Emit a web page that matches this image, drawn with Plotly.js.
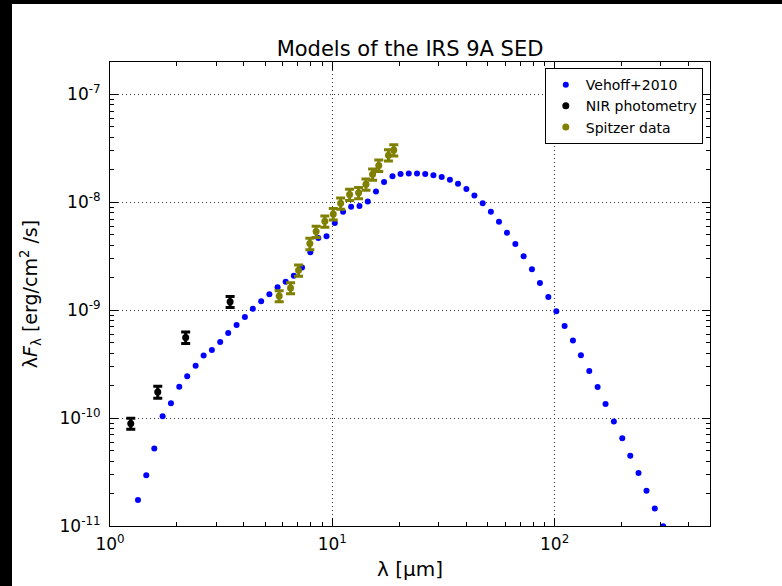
<!DOCTYPE html>
<html>
<head>
<meta charset="utf-8">
<script src="https://cdn.plot.ly/plotly-3.0.1.min.js"></script>
<style>
  html, body { margin: 0; padding: 0; background: #000; width: 782px; height: 586px; overflow: hidden; }
  #chart { position: absolute; left: 12px; top: 4px; width: 770px; height: 582px; background: #fff; }
</style>
</head>
<body>
<div id="chart"></div>
<script>
// Vehoff+2010 model (wavelength in micron, lambda*F_lambda in erg/cm^2/s)
const modelWavelength = [1.336, 1.456, 1.582, 1.725, 1.880, 2.049, 2.225, 2.428, 2.637, 2.873,
  3.131, 3.402, 3.710, 4.044, 4.392, 4.786, 5.211, 5.673, 6.169, 6.714,
  7.309, 7.964, 8.651, 9.417, 10.26, 11.18, 12.15, 13.25, 14.44, 15.72,
  17.09, 18.65, 20.28, 22.07, 24.05, 26.18, 28.50, 31.05, 33.81, 36.77,
  40.10, 43.57, 47.47, 51.68, 56.20, 61.05, 66.59, 72.55, 79.07, 85.90,
  93.70, 101.8, 110.9, 120.9, 131.3, 143.2, 156.1, 169.5, 184.7, 201.5,
  218.9, 238.5, 259.1, 282.3, 308.0];
const modelFlux = [1.74e-11, 2.95e-11, 5.24e-11, 1.04e-10, 1.37e-10, 1.95e-10, 2.45e-10, 3.05e-10, 3.81e-10, 4.29e-10,
  5.09e-10, 6.16e-10, 7.31e-10, 8.67e-10, 1.03e-9, 1.21e-9, 1.41e-9, 1.63e-9, 1.84e-9, 2.09e-9,
  2.49e-9, 3.44e-9, 4.67e-9, 4.84e-9, 6.42e-9, 8.20e-9, 9.12e-9, 9.24e-9, 1.017e-8, 1.264e-8,
  1.542e-8, 1.748e-8, 1.828e-8, 1.856e-8, 1.856e-8, 1.836e-8, 1.786e-8, 1.715e-8, 1.616e-8, 1.49e-8,
  1.328e-8, 1.156e-8, 9.83e-9, 8.17e-9, 6.60e-9, 5.24e-9, 4.11e-9, 3.16e-9, 2.40e-9, 1.79e-9,
  1.33e-9, 9.79e-10, 7.15e-10, 5.24e-10, 3.83e-10, 2.74e-10, 1.94e-10, 1.35e-10, 9.32e-11, 6.49e-11,
  4.48e-11, 3.10e-11, 2.12e-11, 1.45e-11, 9.94e-12];

// NIR photometry
const nirWavelength = [1.24, 1.64, 2.19, 3.47];
const nirFlux = [8.93e-11, 1.75e-10, 5.59e-10, 1.20e-9];
const nirError = [1.05e-11, 2.2e-11, 6.8e-11, 1.4e-10];

// Spitzer data
const spitzerWavelength = [5.768, 6.489, 7.050, 7.924, 8.457, 9.254, 10.10, 10.90, 11.96, 13.13, 14.17, 15.18, 16.18, 17.89, 18.90];
const spitzerFlux = [1.356e-9, 1.609e-9, 2.346e-9, 4.145e-9, 5.365e-9, 6.67e-9, 7.82e-9, 9.79e-9, 1.181e-8, 1.225e-8, 1.468e-8, 1.824e-8, 2.20e-8, 2.74e-8, 3.05e-8];
const spitzerError = [1.6e-10, 1.9e-10, 2.8e-10, 5.0e-10, 6.4e-10, 8.0e-10, 9.4e-10, 1.17e-9, 1.42e-9, 1.47e-9, 1.76e-9, 2.19e-9, 2.64e-9, 3.29e-9, 3.66e-9];

// Axis ticks
const xTickVals = [1, 10, 100];
const xTickText = ['10<sup>0</sup>', '10<sup>1</sup>', '10<sup>2</sup>'];
const xMinorVals = [2, 3, 4, 5, 6, 7, 8, 9, 20, 30, 40, 50, 60, 70, 80, 90, 200, 300, 400];
const yTickVals = [1e-11, 1e-10, 1e-9, 1e-8, 1e-7];
const yTickText = ['10<sup>-11</sup>', '10<sup>-10</sup>', '10<sup>-9</sup>', '10<sup>-8</sup>', '10<sup>-7</sup>'];
const yMinorVals = [2e-11, 3e-11, 4e-11, 5e-11, 6e-11, 7e-11, 8e-11, 9e-11,
  2e-10, 3e-10, 4e-10, 5e-10, 6e-10, 7e-10, 8e-10, 9e-10,
  2e-9, 3e-9, 4e-9, 5e-9, 6e-9, 7e-9, 8e-9, 9e-9,
  2e-8, 3e-8, 4e-8, 5e-8, 6e-8, 7e-8, 8e-8, 9e-8];

const FONT = 'DejaVu Sans, sans-serif';

const traces = [
  {
    x: modelWavelength, y: modelFlux, type: 'scatter', mode: 'markers', name: 'Vehoff+2010',
    marker: { color: '#0000ff', size: 6, line: { width: 0 } }
  },
  {
    x: nirWavelength, y: nirFlux, type: 'scatter', mode: 'markers', name: 'NIR photometry',
    marker: { color: '#000000', size: 7, line: { width: 0 } },
    error_y: { type: 'data', array: nirError, color: '#000000', thickness: 3, width: 4.5 }
  },
  {
    x: spitzerWavelength, y: spitzerFlux, type: 'scatter', mode: 'markers', name: 'Spitzer data',
    marker: { color: '#808000', size: 7, line: { width: 0 } },
    error_y: { type: 'data', array: spitzerError, color: '#808000', thickness: 3, width: 4.5 }
  }
];

const axisCommon = {
  showline: true, linecolor: '#000', linewidth: 1, mirror: 'allticks',
  ticks: 'inside', ticklen: 8, tickwidth: 1, tickcolor: '#000',
  showgrid: true, gridcolor: '#333', gridwidth: 1, griddash: '1px,3px',
  zeroline: false, tickmode: 'array',
  tickfont: { family: FONT, size: 17, color: '#000' }
};

const layout = {
  width: 770, height: 582,
  paper_bgcolor: '#ffffff', plot_bgcolor: '#ffffff',
  margin: { l: 98, r: 72, t: 58, b: 60 },
  font: { family: FONT, color: '#000' },
  showlegend: true,
  title: {
    text: 'Models of the IRS 9A SED',
    font: { family: FONT, size: 21, color: '#000' },
    x: 0.5, xref: 'paper', xanchor: 'center',
    y: 1, yref: 'paper', yanchor: 'bottom', pad: { b: 6 }
  },
  xaxis: Object.assign({}, axisCommon, {
    type: 'log', range: [0, Math.log10(500)],
    tickvals: xTickVals, ticktext: xTickText,
    ticklabelstandoff: 3,
    minor: { tickmode: 'array', tickvals: xMinorVals, ticks: 'inside', ticklen: 4, tickcolor: '#000', showgrid: false },
    title: { text: 'λ [μm]', font: { family: FONT, size: 20, color: '#000' }, standoff: 8 }
  }),
  yaxis: Object.assign({}, axisCommon, {
    type: 'log', range: [-11, Math.log10(2e-7)],
    tickvals: yTickVals, ticktext: yTickText,
    ticklabelstandoff: 5,
    minor: { tickmode: 'array', tickvals: yMinorVals, ticks: 'inside', ticklen: 4, tickcolor: '#000', showgrid: false },
    title: { text: 'λ<i>F</i><sub>λ</sub> [erg/cm<sup>2</sup> /s]', font: { family: FONT, size: 19, color: '#000' }, standoff: 16 }
  }),
  legend: {
    x: 0.988, y: 0.987, xanchor: 'right', yanchor: 'top',
    bgcolor: '#ffffff', bordercolor: '#000', borderwidth: 1,
    font: { family: FONT, size: 14, color: '#000' },
    tracegroupgap: 0
  }
};

Plotly.newPlot('chart', traces, layout, { staticPlot: true, displayModeBar: false });
</script>
</body>
</html>
